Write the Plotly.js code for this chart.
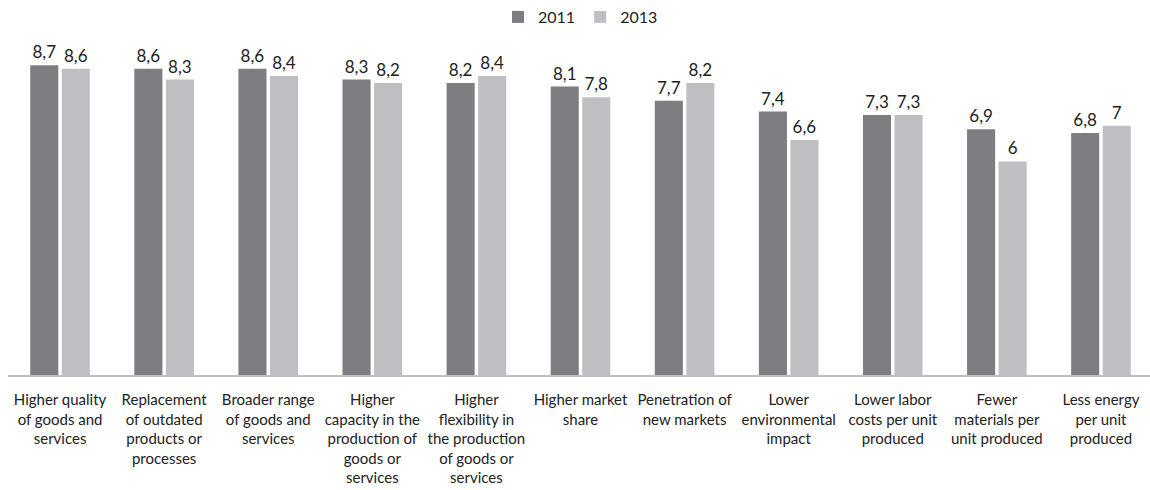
<!DOCTYPE html>
<html><head><meta charset="utf-8">
<script src="https://cdn.plot.ly/plotly-3.0.1.min.js"></script>
<style>html,body{margin:0;padding:0;overflow:hidden;background:#fff}</style>
</head><body>
<div id="chart" style="width:1153px;height:490px"></div>
<script>
const categories = [
  "Higher quality<br>of goods and<br>services",
  "Replacement<br>of outdated<br>products or<br>processes",
  "Broader range<br>of goods and<br>services",
  "Higher<br>capacity in the<br>production of<br>goods or<br>services",
  "Higher<br>flexibility in<br>the production<br>of goods or<br>services",
  "Higher market<br>share",
  "Penetration of<br>new markets",
  "Lower<br>environmental<br>impact",
  "Lower labor<br>costs per unit<br>produced",
  "Fewer<br>materials per<br>unit produced",
  "Less energy<br>per unit<br>produced"
];
const values2011 = [8.7, 8.6, 8.6, 8.3, 8.2, 8.1, 7.7, 7.4, 7.3, 6.9, 6.8];
const values2013 = [8.6, 8.3, 8.4, 8.2, 8.4, 7.8, 8.2, 6.6, 7.3, 6, 7];
const seriesNames = ["2011", "2013"];

const fmt = v => String(v).replace('.', ',');
const font = "Lato, 'Open Sans', sans-serif";

const traces = [
  {type:'bar', name:seriesNames[0], x:categories, y:values2011, text:values2011.map(fmt),
   textposition:'outside', cliponaxis:false, marker:{color:'#7d7d82'},
   textfont:{size:17, color:'#222'}, hoverinfo:'none'},
  {type:'bar', name:seriesNames[1], x:categories, y:values2013, text:values2013.map(fmt),
   textposition:'outside', cliponaxis:false, marker:{color:'#bfbfc3'},
   textfont:{size:17, color:'#222'}, hoverinfo:'none'}
];

const layout = {
  width:1153, height:490,
  margin:{l:8, r:0, t:35, b:115},
  font:{family:font, size:15, color:'#222'},
  barmode:'group', bargap:0.394, bargroupgap:0.11,
  showlegend:true,
  legend:{orientation:'h', x:0.5, xanchor:'center', y:1.0, yanchor:'top', yref:'container',
          font:{size:16, color:'#222'}, itemwidth:30, traceorder:'normal'},
  xaxis:{type:'category', showline:true, linecolor:'#bfbfbf', linewidth:2, ticks:'',
         tickfont:{size:15, color:'#222'}, tickangle:0, automargin:false, fixedrange:true,
         ticklabelstandoff:10},
  yaxis:{range:[0, 9.55], visible:false, showgrid:false, zeroline:false, fixedrange:true},
  plot_bgcolor:'#fff', paper_bgcolor:'#fff'
};
Plotly.newPlot('chart', traces, layout, {displayModeBar:false, staticPlot:true});
</script>
</body></html>
